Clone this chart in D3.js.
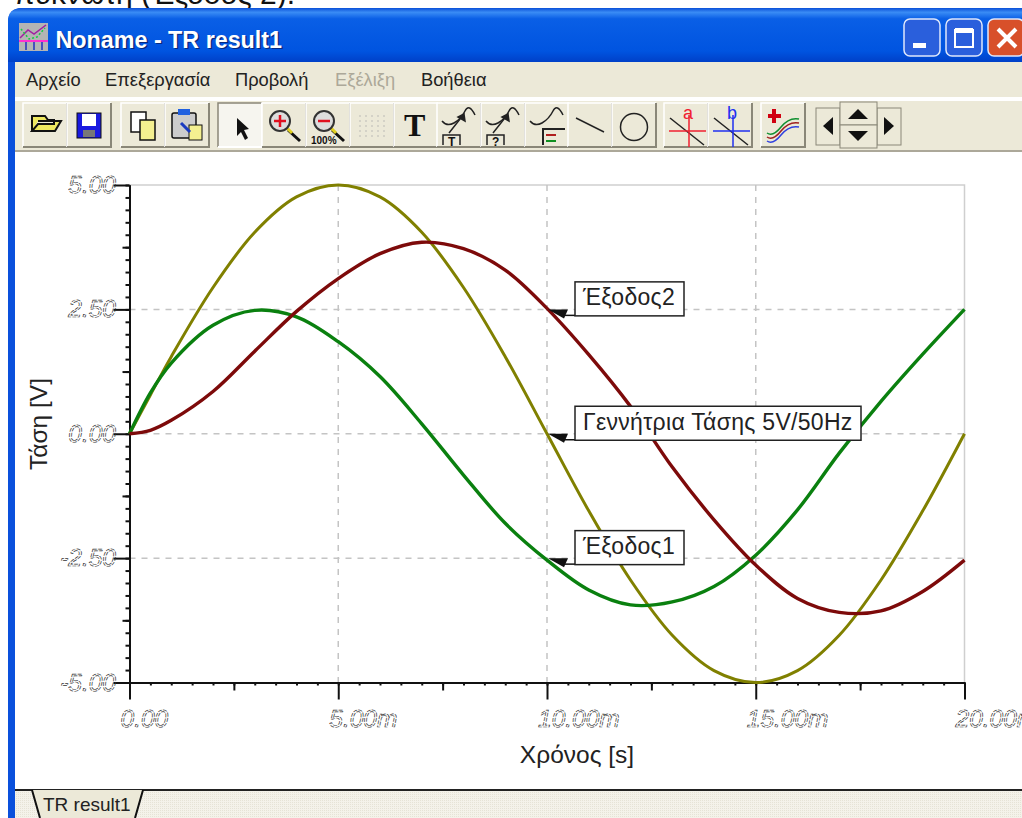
<!doctype html>
<html>
<head>
<meta charset="utf-8">
<title>TR result1</title>
<script src="https://d3js.org/d3.v7.min.js"></script>
<style>
  body { margin: 0; background: #fff; }
  svg { display: block; }
  text { font-family: "Liberation Sans", Arial, sans-serif; }
  .ui { font-size: 18.3px; fill: #222; }
  .ticklbl { font-style: italic; font-size: 24.5px; fill: none; stroke: #333; stroke-width: 0.7; stroke-dasharray: 4 1.2; text-rendering: geometricPrecision; }
  .serif { font-family: "Liberation Serif", serif; }
</style>
</head>
<body>
<div id="my_dataviz"></div>
<script>
// values, time in ms, voltage in V
var timeMs  = [0,0.5,1,2,3,4,5,6,7,8,9,10,11,12,13,14,15,16,17,18,19,20];
var source  = [0,0.78,1.55,2.94,4.05,4.76,5,4.76,4.05,2.94,1.55,0,-1.55,-2.94,-4.05,-4.76,-5,-4.76,-4.05,-2.94,-1.55,0];
var output1 = [0,0.82,1.42,2.18,2.48,2.35,1.85,1.15,0.2,-0.83,-1.8,-2.54,-3.14,-3.44,-3.38,-3.07,-2.44,-1.53,-0.39,0.65,1.6,2.5];
var output2 = [0,0.07,0.27,0.85,1.66,2.46,3.12,3.62,3.85,3.72,3.29,2.52,1.59,0.55,-0.67,-1.73,-2.64,-3.31,-3.59,-3.56,-3.17,-2.54];

var xTicks = [0,5,10,15,20];
var xTickLabels = ["0.00","5.00m","10.00m","15.00m","20.00m"];
var yTicks = [5,2.5,0,-2.5,-5];
var yTickLabels = ["5.00","2.50","0.00","-2.50","-5.00"];

var menuNames = ["Αρχείο","Επεξεργασία","Προβολή","Εξέλιξη","Βοήθεια"];
var menuX = [26,105,235,335,421];

var labelNames = ["Έξοδος2","Γεννήτρια Τάσης 5V/50Hz","Έξοδος1"];
var labelVolts = [2.5,0,-2.5];
var labelWidths = [109,286,109];

var svg = d3.select("#my_dataviz").append("svg")
    .attr("width", 1022).attr("height", 818);

var defs = svg.append("defs");
var grad = defs.append("linearGradient").attr("id","bar").attr("x1",0).attr("x2",0).attr("y1",0).attr("y2",1);
[[0,"#0a4fd8"],[0.08,"#3a8cf5"],[0.2,"#0a5fe6"],[0.8,"#0054e0"],[1,"#0040c8"]].forEach(function(s){
    grad.append("stop").attr("offset",s[0]).attr("stop-color",s[1]);
});
var hatch = defs.append("pattern").attr("id","hatch").attr("width",2).attr("height",2).attr("patternUnits","userSpaceOnUse");
hatch.append("rect").attr("width",2).attr("height",2).attr("fill","#f4f2ea");
hatch.append("rect").attr("width",1).attr("height",1).attr("fill","#e6e3d6");

// caption line cut off above the window
svg.append("text").attr("x",14).attr("y",4).attr("font-size",30).attr("fill","#111").text("πυκνωτή (Έξοδος 2).");

// window frame
svg.append("path").attr("d","M8,818V22Q8,8 22,8H1022V818Z").attr("fill","#0a50dc");
svg.append("path").attr("d","M8,62V22Q8,8 22,8H1022V62Z").attr("fill","url(#bar)");
svg.append("rect").attr("x",15).attr("y",62).attr("width",1007).attr("height",756).attr("fill","#fff");
svg.append("rect").attr("x",15).attr("y",62).attr("width",1007).attr("height",35).attr("fill","#ece9d8");
svg.append("rect").attr("x",15).attr("y",101).attr("width",1007).attr("height",50).attr("fill","#ece9d8");
svg.append("rect").attr("x",15).attr("y",150).attr("width",1007).attr("height",2).attr("fill","#aca899");

// title bar
var ico = svg.append("g").attr("transform","translate(19,23)");
ico.append("rect").attr("width",29).attr("height",28).attr("fill","#b4b4b4");
ico.append("path").attr("d","M1,15L9,7L15,11L27,2").attr("fill","none").attr("stroke","#a020a0").attr("stroke-width",1.5);
ico.append("path").attr("d","M2,6L10,16L18,14L26,5").attr("fill","none").attr("stroke","#10d040").attr("stroke-width",1.5).attr("stroke-dasharray","2 2");
ico.append("path").attr("d","M0,18H29").attr("stroke","#ff30d0").attr("stroke-width",2);
ico.append("path").attr("d","M7,19V27M15,19V27M23,19V27").attr("stroke","#2030c0").attr("stroke-width",1.5);
svg.append("text").attr("x",57).attr("y",49).attr("font-size",23.3).attr("font-weight","bold").attr("fill","#0a2a80").text("Noname - TR result1");
svg.append("text").attr("x",55.5).attr("y",47.5).attr("font-size",23.3).attr("font-weight","bold").attr("fill","#fff").text("Noname - TR result1");

function capButton(x, fill) {
    svg.append("rect").attr("x",x).attr("y",19).attr("width",36).attr("height",37).attr("rx",6)
        .attr("fill",fill).attr("stroke","#dfe8fb").attr("stroke-width",1.5);
}
capButton(904,"#2a5fdc");
capButton(946,"#2a5fdc");
capButton(988,"#d8502a");
svg.append("rect").attr("x",913).attr("y",43).attr("width",13).attr("height",5).attr("fill","#fff");
svg.append("rect").attr("x",955).attr("y",30).attr("width",18).attr("height",17).attr("fill","none").attr("stroke","#fff").attr("stroke-width",2);
svg.append("rect").attr("x",955).attr("y",28).attr("width",18).attr("height",5).attr("fill","#fff");
svg.append("path").attr("d","M998,29L1016,47M1016,29L998,47").attr("stroke","#fff").attr("stroke-width",4);

// menu
svg.selectAll(".menu").data(menuNames).enter().append("text")
    .attr("class","ui menu")
    .attr("x",function(d,i){ return menuX[i]; })
    .attr("y",86)
    .style("fill",function(d){ return d === "Εξέλιξη" ? "#aca899" : "#222"; })
    .text(function(d){ return d; });

// toolbar buttons
function button(x, w, pressed) {
    var g = svg.append("g").attr("transform","translate(" + x + ",103)");
    g.append("rect").attr("width",w).attr("height",44).attr("fill",pressed ? "#f6f5ef" : "#ece9d8");
    g.append("path").attr("d","M0,44V0H" + w).attr("fill","none").attr("stroke",pressed ? "#8a8778" : "#fff").attr("stroke-width",1.5);
    g.append("path").attr("d","M" + w + ",0V44H0").attr("fill","none").attr("stroke",pressed ? "#fff" : "#8a8778").attr("stroke-width",2);
    return g;
}
var g;
g = button(23,44);
g.append("path").attr("d","M9,28V13H22L25,17H31V21H15L9,28H32L38,18H15").attr("fill","#eee860").attr("stroke","#111").attr("stroke-width",2);
g = button(67,44);
g.append("rect").attr("x",10).attr("y",10).attr("width",24).attr("height",25).attr("fill","#1a1ae0").attr("stroke","#111");
g.append("rect").attr("x",15).attr("y",11).attr("width",14).attr("height",12).attr("fill","#fff");
g.append("rect").attr("x",16).attr("y",27).attr("width",12).attr("height",7).attr("fill","#777");
g = button(121,44);
g.append("rect").attr("x",10).attr("y",9).attr("width",15).attr("height",20).attr("fill","#fff").attr("stroke","#111").attr("stroke-width",1.5);
g.append("rect").attr("x",19).attr("y",17).attr("width",15).attr("height",20).attr("fill","#f4f090").attr("stroke","#111").attr("stroke-width",1.5);
g = button(165,44);
g.append("rect").attr("x",7).attr("y",10).attr("width",24).attr("height",25).attr("rx",2).attr("fill","#ccc").attr("stroke","#111").attr("stroke-width",1.5);
g.append("rect").attr("x",13).attr("y",6).attr("width",12).attr("height",6).attr("fill","#2060e0");
g.append("rect").attr("x",24).attr("y",22).attr("width",13).attr("height",15).attr("fill","#f4f090").attr("stroke","#111");
g.append("path").attr("d","M16,20L25,29").attr("stroke","#1a3ac0").attr("stroke-width",3);
g = button(218,44,true);
g.append("path").attr("d","M19,15L19,33L23,29L27,37L30,35L26,27L31,26Z").attr("fill","#111");
function lens(gr, sign, color) {
    gr.append("path").attr("d","M26,27L38,38").attr("stroke","#111").attr("stroke-width",3);
    gr.append("path").attr("d","M24,24L30,30").attr("stroke","#e0d020").attr("stroke-width",3);
    gr.append("circle").attr("cx",18).attr("cy",18).attr("r",10).attr("fill","#ddd").attr("stroke","#333").attr("stroke-width",2);
    gr.append("path").attr("d",sign).attr("stroke",color).attr("stroke-width",2.5);
}
g = button(262,44);
lens(g,"M12,18H24M18,12V24","#e01020");
g = button(306,44);
lens(g,"M12,18H24","#e01020");
g.append("text").attr("x",5).attr("y",41).attr("font-size",10).attr("font-weight","bold").attr("fill","#111").text("100%");
g = button(350,44);
g.selectAll("circle").data(d3.range(25)).enter().append("circle")
    .attr("cx",function(d){ return 10 + (d % 5) * 6; })
    .attr("cy",function(d){ return 13 + Math.floor(d / 5) * 5; })
    .attr("r",0.7).attr("fill","#aaa");
g = button(394,44);
g.append("text").attr("class","serif").attr("x",10).attr("y",33).attr("font-size",32).attr("font-weight","bold").attr("fill","#111").text("T");
function wave(gr) {
    gr.append("path").attr("d","M5,18Q10,24 17,20T28,8T38,12").attr("fill","none").attr("stroke","#222").attr("stroke-width",1.5);
}
function waveArrow(gr) {
    wave(gr);
    gr.append("path").attr("d","M12,30L27,11M27,11L28,18L21,14Z").attr("fill","#222").attr("stroke","#222").attr("stroke-width",1.5);
}
g = button(437,44); waveArrow(g);
g.append("path").attr("d","M6,42V32H23V42").attr("fill","none").attr("stroke","#222").attr("stroke-width",1.5);
g.append("text").attr("x",11).attr("y",43).attr("font-size",12).attr("font-weight","bold").attr("fill","#111").text("T");
g = button(481,44); waveArrow(g);
g.append("path").attr("d","M6,42V32H23V42").attr("fill","none").attr("stroke","#222").attr("stroke-width",1.5);
g.append("text").attr("x",11).attr("y",43).attr("font-size",12).attr("font-weight","bold").attr("fill","#111").text("?");
g = button(525,44); wave(g);
g.append("path").attr("d","M18,42V26H40").attr("fill","none").attr("stroke","#222").attr("stroke-width",2);
g.append("path").attr("d","M21,32H31").attr("stroke","#b02020").attr("stroke-width",2);
g.append("path").attr("d","M21,38H31").attr("stroke","#109020").attr("stroke-width",2);
g = button(568,44);
g.append("path").attr("d","M8,15L36,29").attr("stroke","#222").attr("stroke-width",1.5);
g = button(612,44);
g.append("circle").attr("cx",22).attr("cy",24).attr("r",13.5).attr("fill","none").attr("stroke","#222").attr("stroke-width",1.5);
function cursor(gr, letter, color) {
    gr.append("path").attr("d","M6,15L40,42").attr("stroke","#222").attr("stroke-width",1.5);
    gr.append("path").attr("d","M5,28H42M25,12V44").attr("stroke",color).attr("stroke-width",1.5);
    gr.append("text").attr("x",19).attr("y",16).attr("font-size",18).attr("fill",color).text(letter);
}
g = button(664,44); cursor(g,"a","#f02030");
g = button(708,44); cursor(g,"b","#2030f0");
g = button(761,44);
g.append("path").attr("d","M7,13H20M13,6V20").attr("stroke","#d00010").attr("stroke-width",4);
g.append("path").attr("d","M6,30Q12,34 20,24T38,16").attr("fill","none").attr("stroke","#109030").attr("stroke-width",1.5);
g.append("path").attr("d","M6,34Q12,38 20,28T38,20").attr("fill","none").attr("stroke","#a02020").attr("stroke-width",1.5);
g.append("path").attr("d","M6,38Q12,42 20,32T38,24").attr("fill","none").attr("stroke","#3040e0").attr("stroke-width",1.5);

g = svg.append("g").attr("transform","translate(816,108)");
g.append("rect").attr("width",24).attr("height",37).attr("fill","#ece9d8").attr("stroke","#8a8778");
g.append("path").attr("d","M7,18L17,9V27Z").attr("fill","#111");
g = svg.append("g").attr("transform","translate(877,108)");
g.append("rect").attr("width",24).attr("height",37).attr("fill","#ece9d8").attr("stroke","#8a8778");
g.append("path").attr("d","M17,18L7,9V27Z").attr("fill","#111");
g = svg.append("g").attr("transform","translate(840,102)");
g.append("rect").attr("width",37).attr("height",23).attr("fill","#ece9d8").attr("stroke","#8a8778");
g.append("rect").attr("y",23).attr("width",37).attr("height",23).attr("fill","#ece9d8").attr("stroke","#8a8778");
g.append("path").attr("d","M18,7L28,17H8Z").attr("fill","#111");
g.append("path").attr("d","M18,39L28,29H8Z").attr("fill","#111");

// scales
var x = d3.scaleLinear().domain([0,20]).range([129.5,964.5]);
var y = d3.scaleLinear().domain([-5,5]).range([682.5,185]);

// plot border and grid
var grid = svg.append("g");
grid.append("path").attr("d","M" + x(0) + "," + y(5) + "H" + x(20) + "V" + y(-5))
    .attr("fill","none").attr("stroke","#cfcfcf").attr("stroke-width",1.5);
grid.selectAll(".gx").data(xTicks.slice(1,4)).enter().append("line")
    .attr("x1",x).attr("x2",x).attr("y1",y(5)).attr("y2",y(-5));
grid.selectAll(".gy").data(yTicks.slice(1,4)).enter().append("line")
    .attr("x1",x(0)).attr("x2",x(20)).attr("y1",y).attr("y2",y);
grid.selectAll("line").attr("stroke","#c4c4c4").attr("stroke-width",1.5).attr("stroke-dasharray","6 6");

// axes: small, middle and large ticks
function axisStyle(a) {
    a.selectAll("path").attr("stroke","#111").attr("stroke-width",2);
    a.selectAll("line").attr("stroke","#111").attr("stroke-width",2);
    a.selectAll("text").remove();
}
var xSmall = d3.range(0,20.01,0.5), xMid = d3.range(2.5,20,5);
var ySmall = d3.range(-5,5.01,0.25), yMid = d3.range(-3.75,5,2.5);

svg.append("g").attr("transform","translate(0," + y(-5) + ")")
    .call(d3.axisBottom(x).tickValues(xSmall).tickSize(3).tickSizeOuter(0)).call(axisStyle);
svg.append("g").attr("transform","translate(0," + y(-5) + ")")
    .call(d3.axisBottom(x).tickValues(xMid).tickSize(8).tickSizeOuter(0)).call(axisStyle);
svg.append("g").attr("transform","translate(0," + y(-5) + ")")
    .call(d3.axisBottom(x).tickValues(xTicks).tickSize(17).tickSizeOuter(0)).call(axisStyle);

svg.append("g").attr("transform","translate(" + x(0) + ",0)")
    .call(d3.axisLeft(y).tickValues(ySmall).tickSize(4).tickSizeOuter(0)).call(axisStyle);
svg.append("g").attr("transform","translate(" + x(0) + ",0)")
    .call(d3.axisLeft(y).tickValues(yMid).tickSize(7).tickSizeOuter(0)).call(axisStyle);
svg.append("g").attr("transform","translate(" + x(0) + ",0)")
    .call(d3.axisLeft(y).tickValues(yTicks).tickSize(16).tickSizeOuter(0)).call(axisStyle);

// tick labels
svg.selectAll(".xl").data(xTicks).enter().append("text")
    .attr("class","ticklbl")
    .attr("x",function(d){ return x(d) - 9; })
    .attr("y",727)
    .text(function(d,i){ return xTickLabels[i]; });
svg.selectAll(".yl").data(yTicks).enter().append("text")
    .attr("class","ticklbl")
    .attr("x",116)
    .attr("y",function(d){ return y(d) + 8; })
    .attr("text-anchor","end")
    .text(function(d,i){ return yTickLabels[i]; });

// axis titles
svg.append("text").attr("x",577).attr("y",763).attr("text-anchor","middle").attr("font-size",24.5).attr("fill","#222").text("Χρόνος [s]");
svg.append("text").attr("transform","translate(47,424) rotate(-90)").attr("text-anchor","middle").attr("font-size",24.5).attr("fill","#222").text("Τάση [V]");

// traces
var line = d3.line()
    .x(function(d,i){ return x(timeMs[i]); })
    .y(function(d){ return y(d); })
    .curve(d3.curveCatmullRom);
var traces = [[source,"#808000",3],[output1,"#0a800f",3.4],[output2,"#7d0a0a",3.4]];
svg.selectAll(".trace").data(traces).enter().append("path")
    .attr("class","trace")
    .attr("d",function(d){ return line(d[0]); })
    .attr("fill","none")
    .attr("stroke",function(d){ return d[1]; })
    .attr("stroke-width",function(d){ return d[2]; });

// labels on the traces at 10 ms
labelNames.forEach(function(name,i){
    var px = x(10), py = y(labelVolts[i]);
    var lab = svg.append("g");
    lab.append("path").attr("d","M" + (px + 1) + "," + py + "L" + (px + 21) + "," + py + "L" + (px + 17) + "," + (py + 9) + "Z").attr("fill","#111");
    lab.append("path").attr("d","M" + (px + 16) + "," + (py + 6) + "H" + (px + 28)).attr("stroke","#111").attr("stroke-width",1.5);
    lab.append("rect").attr("x",px + 28).attr("y",py - 27.5).attr("width",labelWidths[i]).attr("height",34)
        .attr("fill","#fff").attr("stroke","#222").attr("stroke-width",1.5);
    lab.append("text").attr("x",px + 36).attr("y",py - 4).attr("font-size",23).attr("letter-spacing",0.3).attr("fill","#222").text(name);
});

// tab strip at the bottom
svg.append("rect").attr("x",15).attr("y",790).attr("width",1007).attr("height",28).attr("fill","url(#hatch)");
svg.append("rect").attr("x",15).attr("y",789).attr("width",1007).attr("height",2).attr("fill","#222");
svg.append("path").attr("d","M32,790L41,818H134L143,790Z").attr("fill","#ece9d8");
svg.append("path").attr("d","M32,790L40,818M143,790L135,818").attr("stroke","#111").attr("stroke-width",2);
svg.append("text").attr("x",43).attr("y",811).attr("font-size",19).attr("fill","#222").text("TR result1");
</script>
</body>
</html>
